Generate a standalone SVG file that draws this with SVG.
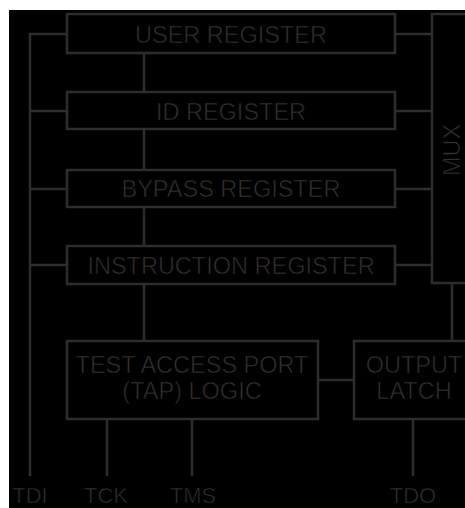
<svg xmlns="http://www.w3.org/2000/svg" width="465" height="508" viewBox="0 0 465 508">
  <style>
    .box { fill: none; stroke: #302c2c; stroke-width: 2.5; }
    .wire { fill: none; stroke: #302c2c; stroke-width: 2.5; }
    /* thin black outline lightens the glyph weight */
    .lbl { font-family: "Liberation Sans", Arial, sans-serif; font-size: 23.5px; fill: #332f2f; stroke: #000000; stroke-width: 0.6; paint-order: normal; text-anchor: middle; }
    .pin { font-family: "Liberation Sans", Arial, sans-serif; font-size: 22px; fill: #332f2f; stroke: #000000; stroke-width: 0.6; paint-order: normal; text-anchor: middle; }
  </style>
  <rect x="0" y="0" width="465" height="508" fill="#ffffff"/>
  <rect x="9" y="10" width="456" height="498" fill="#000000"/>

  <g id="connectors">
    <!-- TDI bus feeding every register -->
    <path class="wire" d="M30,476 V34 H67 M30,111 H67 M30,189 H67 M30,265 H67"/>
    <!-- register outputs into the MUX -->
    <path class="wire" d="M395,34 H432 M395,111 H432 M395,189 H432 M395,265 H432"/>
    <!-- control chain between registers and TAP -->
    <path class="wire" d="M144,53 V92 M144,129 V170 M144,207 V246 M144,284 V341"/>
    <!-- TAP to output latch -->
    <path class="wire" d="M318,380 H354"/>
    <!-- MUX to output latch -->
    <path class="wire" d="M452,283 V341"/>
    <!-- pins -->
    <path class="wire" d="M107,419 V476 M192,419 V476 M413,419 V476"/>
  </g>

  <g id="user-register">
    <rect class="box" x="67" y="14" width="328" height="39"/>
    <text class="lbl" x="231" y="43">USER REGISTER</text>
  </g>
  <g id="id-register">
    <rect class="box" x="67" y="92" width="328" height="37"/>
    <text class="lbl" x="231" y="120">ID REGISTER</text>
  </g>
  <g id="bypass-register">
    <rect class="box" x="67" y="170" width="328" height="37"/>
    <text class="lbl" x="231" y="197">BYPASS REGISTER</text>
  </g>
  <g id="instruction-register">
    <rect class="box" x="67" y="246" width="328" height="38"/>
    <text class="lbl" x="231" y="274">INSTRUCTION REGISTER</text>
  </g>
  <g id="mux">
    <rect class="box" x="432" y="14" width="40" height="269"/>
    <text class="lbl" transform="translate(460,150) rotate(-90)" x="0" y="0">MUX</text>
  </g>
  <g id="tap-logic">
    <rect class="box" x="67" y="341" width="251" height="78"/>
    <text class="lbl" x="192" y="373">TEST ACCESS PORT</text>
    <text class="lbl" x="192" y="399">(TAP) LOGIC</text>
  </g>
  <g id="output-latch">
    <rect class="box" x="354" y="341" width="120" height="78"/>
    <text class="lbl" x="414" y="373">OUTPUT</text>
    <text class="lbl" x="414" y="399">LATCH</text>
  </g>

  <g id="pins">
    <text class="pin" x="30" y="503">TDI</text>
    <text class="pin" x="106" y="503">TCK</text>
    <text class="pin" x="193" y="503">TMS</text>
    <text class="pin" x="413" y="503">TDO</text>
  </g>
</svg>
